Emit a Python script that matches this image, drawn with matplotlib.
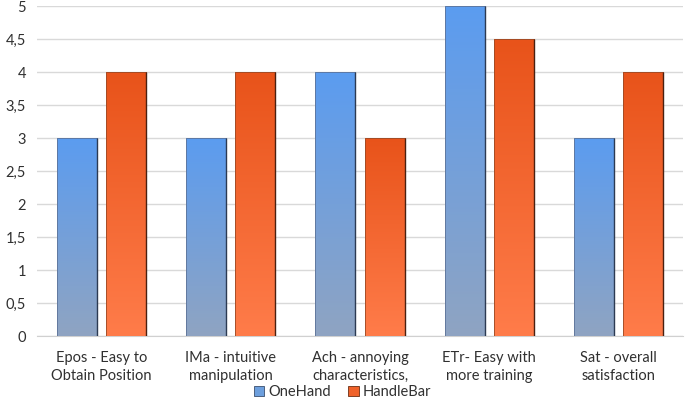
import matplotlib
matplotlib.use("Agg")
import matplotlib.pyplot as plt
import numpy as np
from matplotlib.colors import LinearSegmentedColormap
from matplotlib.patches import Rectangle, Patch
from matplotlib.ticker import FuncFormatter

categories = ["Epos - Easy to\nObtain Position", "IMa - intuitive\nmanipulation",
              "Ach - annoying\ncharacteristics,", "ETr- Easy with\nmore training",
              "Sat - overall\nsatisfaction"]
onehand = [3, 3, 4, 5, 3]
handlebar = [4, 4, 3, 4.5, 4]
series_names = ["OneHand", "HandleBar"]

plt.rcParams['font.family'] = ['Lato', 'DejaVu Sans']

fig = plt.figure(figsize=(6.85, 4.13), dpi=100)
ax = fig.add_axes([37/685, 1 - 336/413, (683-37)/685, (336-6)/413])

x = np.arange(len(categories))
w = 0.31
gap = 0.07
off = (w + gap) / 2

blue_cmap = LinearSegmentedColormap.from_list("b", ["#8fa4c2", "#5b9cf0"])
orange_cmap = LinearSegmentedColormap.from_list("o", ["#ff7c4a", "#e8531a"])

grad = np.linspace(0, 1, 256).reshape(-1, 1)

def grad_bars(xs, vals, cmap, edge, dark, label):
    bars = ax.bar(xs, vals, width=w, color="none", edgecolor="none", label=label, zorder=3)
    for b in bars:
        bx, by = b.get_x(), b.get_y()
        bw, bh = b.get_width(), b.get_height()
        im = ax.imshow(grad, extent=[bx, bx + bw, by, by + bh], origin="lower",
                       cmap=cmap, aspect="auto", zorder=3, interpolation="bicubic")
        rect = Rectangle((bx, by), bw, bh, transform=ax.transData, facecolor="none")
        im.set_clip_path(rect)
        ax.add_patch(Rectangle((bx, by), bw, bh, facecolor="none", edgecolor=edge,
                               linewidth=0.6, zorder=4))
        ax.plot([bx + bw, bx + bw], [by, by + bh], color=dark, linewidth=1.0,
                zorder=5, solid_capstyle="butt")
    return bars

grad_bars(x - off, onehand, blue_cmap, "#5d7398", "#2c3a52", series_names[0])
grad_bars(x + off, handlebar, orange_cmap, "#9a4a26", "#4a2010", series_names[1])

ax.set_xlim(-0.5, len(categories) - 0.5)
ax.set_ylim(0, 5)
ax.set_yticks(np.arange(0, 5.01, 0.5))
ax.yaxis.set_major_formatter(FuncFormatter(lambda v, p: ("%g" % v).replace(".", ",")))
ax.grid(axis="y", color="#d9d9d9", linewidth=1, zorder=0)
ax.set_axisbelow(True)
for s in ["top", "right", "left"]:
    ax.spines[s].set_visible(False)
ax.spines["bottom"].set_color("#d0d0d0")
ax.tick_params(axis="both", length=0, labelsize=10.5, colors="#303030")
ax.tick_params(axis="y", pad=8)
ax.tick_params(axis="x", pad=11)
ax.set_xticks(x)
ax.set_xticklabels(categories, linespacing=1.35)

handles = [Patch(facecolor="#6d9fdd", edgecolor="#3a4f6e", linewidth=0.6),
           Patch(facecolor="#f0622a", edgecolor="#6b2e14", linewidth=0.6)]
fig.legend(handles, series_names, loc="center", bbox_to_anchor=(0.5, 1 - 392/413),
           ncol=2, frameon=False, fontsize=10.5, handlelength=0.7, handleheight=0.7,
           handletextpad=0.3, columnspacing=1.2, labelcolor="#303030")

fig.savefig("out.png", dpi=100)
